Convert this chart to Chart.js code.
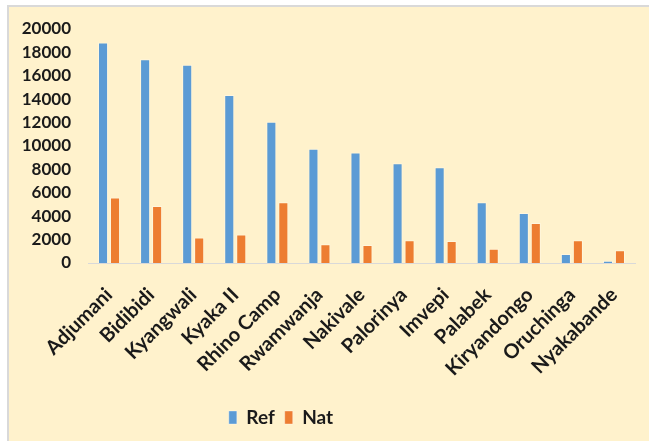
<!DOCTYPE html>
<html>
<head>
<meta charset="utf-8">
<script src="https://cdn.jsdelivr.net/npm/chart.js@4"></script>
<style>
  html, body { margin: 0; padding: 0; background: #fff; overflow: hidden; }
  #box {
    position: absolute; left: 7px; top: 5px;
    width: 640px; height: 434px;
    border-left: 2px solid #d9d9d9; border-top: 2px solid #d9d9d9;
    background: #FFF2CC;
  }
</style>
</head>
<body>
<div id="box"><canvas id="campChart" width="640" height="434"></canvas></div>
<script>
// settlements
var camps = ['Adjumani', 'Bidibidi', 'Kyangwali', 'Kyaka II', 'Rhino Camp', 'Rwamwanja',
    'Nakivale', 'Palorinya', 'Imvepi', 'Palabek', 'Kiryandongo', 'Oruchinga', 'Nyakabande'];
var refValues = [18850, 17420, 16950, 14350, 12080, 9760, 9450, 8520, 8180, 5200, 4280, 760, 200];
var natValues = [5600, 4870, 2180, 2430, 5200, 1610, 1530, 1950, 1870, 1220, 3420, 1950, 1100];
var yTicks = [0, 2000, 4000, 6000, 8000, 10000, 12000, 14000, 16000, 18000, 20000];

var textColor = '#1a1a1a';
var font = 'Lato, "Open Sans", sans-serif';

// move the legend a bit to the left, like the original
var legendShift = {
    id: 'legendShift',
    afterLayout: function (chart) {
        chart.legend.left -= 41;
        chart.legend.right -= 41;
    }
};

var ctx = document.getElementById('campChart').getContext('2d');
var campChart = new Chart(ctx, {
    type: 'bar',
    data: {
        labels: camps,
        datasets: [{
            label: 'Ref',
            data: refValues,
            backgroundColor: '#5B9BD5',
            borderColor: 'rgba(255,255,255,0.35)',
            borderWidth: 1,
            categoryPercentage: 0.57,
            barPercentage: 0.84
        }, {
            label: 'Nat',
            data: natValues,
            backgroundColor: '#ED7D31',
            borderColor: 'rgba(255,255,255,0.35)',
            borderWidth: 1,
            categoryPercentage: 0.57,
            barPercentage: 0.84
        }]
    },
    options: {
        responsive: false,
        animation: false,
        layout: { padding: { top: 22, right: 14, left: 0, bottom: 4 } },
        plugins: {
            tooltip: { enabled: false },
            legend: {
                position: 'bottom',
                labels: {
                    boxWidth: 8,
                    boxHeight: 13,
                    color: textColor,
                    padding: 10,
                    font: { family: font, size: 19, weight: 'bold' }
                }
            }
        },
        scales: {
            x: {
                grid: { display: false },
                border: { display: true, color: '#d9d9d9', width: 1 },
                afterFit: function (scale) { scale.height = 135; },
                ticks: {
                    color: textColor,
                    minRotation: 45,
                    maxRotation: 45,
                    autoSkip: false,
                    padding: 12,
                    font: { family: font, size: 20, weight: 'bold' }
                }
            },
            y: {
                min: 0,
                max: 20000,
                afterBuildTicks: function (scale) {
                    scale.ticks = yTicks.map(function (v) { return { value: v }; });
                },
                afterFit: function (scale) {
                    scale.width = 79;
                    scale.paddingTop = 0;
                },
                grid: { display: false, drawTicks: false },
                border: { display: false },
                ticks: {
                    color: textColor,
                    padding: 17,
                    autoSkip: false,
                    callback: function (v) { return String(v); },
                    font: { family: font, size: 17, weight: 'bold' }
                }
            }
        }
    },
    plugins: [legendShift]
});
</script>
</body>
</html>
